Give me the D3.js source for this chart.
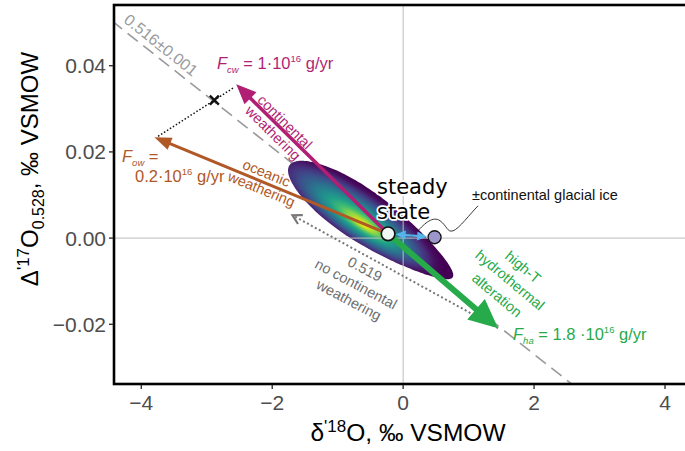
<!DOCTYPE html>
<html><head><meta charset="utf-8">
<script src="https://cdn.jsdelivr.net/npm/d3@7"></script>
<style>body{margin:0;background:#fff} svg{display:block}</style>
</head><body><svg id="c" width="685" height="451"></svg>
<script>
// ---- data ----
const xTicks = [-4, -2, 0, 2, 4];
const xTickLabels = ["−4", "−2", "0", "2", "4"];
const yTicks = [-0.02, 0, 0.02, 0.04];
const yTickLabels = ["−0.02", "0.00", "0.02", "0.04"];
const steadyState = [-0.23, 0.001];
const glacialState = [0.48, 0.0002];
const fluxNames = ["continental weathering", "oceanic weathering", "high-T hydrothermal alteration"];
const fluxTipX = [-2.55, -3.80, 1.45];
const fluxTipY = [0.0357, 0.0234, -0.0209];
const line516X = [-4.45, 2.57];
const line516Y = [0.0504, -0.0338];
const line519X = [1.45, -1.69];
const line519Y = [-0.0209, 0.0053];
const mixX = [-2.60, -2.884, -3.745];
const mixY = [0.0348, 0.0320, 0.0236];
const densityCenter = [-0.49, 0.0039];

// ---- setup ----
const svg = d3.select("#c");
const P = {l: 114, t: 5, r: 690, b: 384};
const x = d3.scaleLinear().domain([-4, 4]).range([141.3, 665]);
const y = d3.scaleLinear().domain([-0.02, 0.04]).range([324.3, 65.7]);
const FONT = "'Liberation Sans', Arial, Helvetica, sans-serif";
const C = {cw: "#B01F74", ow: "#B05826", ha: "#26AA4A", blue: "#56B4E9"};

const defs = svg.append("defs");
defs.append("clipPath").attr("id", "clip").append("rect")
  .attr("x", P.l).attr("y", P.t).attr("width", P.r - P.l).attr("height", P.b - P.t);
const grad = defs.append("radialGradient").attr("id", "vir")
  .attr("cx", 0.42).attr("cy", 0.54).attr("fx", 0.48).attr("fy", 0.64).attr("r", 0.52);
[[0, "#FDE725"], [0.07, "#D8E219"], [0.16, "#8FD744"], [0.26, "#3FBC73"], [0.37, "#1F9E89"],
 [0.48, "#25838E"], [0.59, "#30678D"], [0.7, "#3E4A89"], [0.8, "#472C7A"], [0.9, "#460F5F"], [1, "#440154"]]
  .forEach(s => grad.append("stop").attr("offset", s[0]).attr("stop-color", s[1]));

const plot = svg.append("g").attr("clip-path", "url(#clip)");

// 0.516 dashed line
plot.append("line").attr("x1", x(line516X[0])).attr("y1", y(line516Y[0]))
  .attr("x2", x(line516X[1])).attr("y2", y(line516Y[1]))
  .attr("stroke", "#9A9A9A").attr("stroke-width", 1.6).attr("stroke-dasharray", "13,7");

// density blob (egg-shaped: broader at upper-left end)
{
  const a = 99, b = 22.5;
  const pts = d3.range(0, 2 * Math.PI, Math.PI / 90).map(t => {
    const c = Math.cos(t), s = Math.sin(t);
    return [a * c, b * s * (1 - 0.22 * c) * (1 + 0.12 * (1 - c * c))];
  });
  plot.append("g")
    .attr("transform", `translate(${x(densityCenter[0])},${y(densityCenter[1])}) rotate(34.5)`)
    .append("path").attr("d", d3.line().curve(d3.curveCardinalClosed)(pts)).attr("fill", "url(#vir)");
}

// zero lines
plot.append("line").attr("x1", x(0)).attr("x2", x(0)).attr("y1", P.t).attr("y2", P.b)
  .attr("stroke", "#BDBDBD").attr("stroke-width", 1);
plot.append("line").attr("x1", P.l).attr("x2", P.r).attr("y1", y(0)).attr("y2", y(0))
  .attr("stroke", "#BDBDBD").attr("stroke-width", 1);

// 0.519 dotted line with open chevron
{
  const x1 = x(line519X[0]), y1 = y(line519Y[0]), x2 = x(line519X[1]), y2 = y(line519Y[1]);
  plot.append("line").attr("x1", x1).attr("y1", y1).attr("x2", x2).attr("y2", y2)
    .attr("stroke", "#777").attr("stroke-width", 2).attr("stroke-dasharray", "2,2.5");
  const a = Math.atan2(y2 - y1, x2 - x1), L = 9, W = 5;
  const bx = x2 - L * Math.cos(a), by = y2 - L * Math.sin(a);
  plot.append("path")
    .attr("d", `M${bx - W * Math.sin(a)},${by + W * Math.cos(a)} L${x2},${y2} L${bx + W * Math.sin(a)},${by - W * Math.cos(a)}`)
    .attr("fill", "none").attr("stroke", "#777").attr("stroke-width", 2.2);
}

// mixing dotted lines
plot.append("path")
  .attr("d", d3.line()(mixX.map((d, i) => [x(d), y(mixY[i])])))
  .attr("fill", "none").attr("stroke", "#111").attr("stroke-width", 1.5).attr("stroke-dasharray", "1.5,2");
// cross
{
  const cx = x(mixX[1]), cy = y(mixY[1]), s = 4.5;
  plot.append("path").attr("d", `M${cx - s},${cy - s}L${cx + s},${cy + s}M${cx - s},${cy + s}L${cx + s},${cy - s}`)
    .attr("stroke", "#111").attr("stroke-width", 2.4);
}

function arrow(g, x1, y1, x2, y2, color, w, L, W) {
  const a = Math.atan2(y2 - y1, x2 - x1);
  const bx = x2 - L * Math.cos(a), by = y2 - L * Math.sin(a);
  g.append("line").attr("x1", x1).attr("y1", y1)
    .attr("x2", x2 - (L * 0.6) * Math.cos(a)).attr("y2", y2 - (L * 0.6) * Math.sin(a))
    .attr("stroke", color).attr("stroke-width", w);
  g.append("path")
    .attr("d", `M${x2},${y2}L${bx - W / 2 * Math.sin(a)},${by + W / 2 * Math.cos(a)}L${bx + W / 2 * Math.sin(a)},${by - W / 2 * Math.cos(a)}Z`)
    .attr("fill", color);
}

const sx = x(steadyState[0]), sy = y(steadyState[1]);
const arrowStyle = [[C.cw, 3.6, 20, 17], [C.ow, 3, 17, 13], [C.ha, 6, 29, 27]];
fluxNames.forEach((n, i) => {
  arrow(plot, sx, sy, x(fluxTipX[i]), y(fluxTipY[i]), arrowStyle[i][0], arrowStyle[i][1], arrowStyle[i][2], arrowStyle[i][3]);
});

// glacial double arrow
{
  const gx = x(glacialState[0]), gy = y(glacialState[1]);
  const a = Math.atan2(gy - sy, gx - sx), r = 7.5;
  const ax = sx + r * Math.cos(a), ay = sy + r * Math.sin(a);
  const bx = gx - r * Math.cos(a), by = gy - r * Math.sin(a);
  const mx = (ax + bx) / 2, my = (ay + by) / 2;
  arrow(plot, mx, my, ax, ay, C.blue, 2.2, 10, 9);
  arrow(plot, mx, my, bx, by, C.blue, 2.2, 10, 9);
}

// leader line
{
  const ox = x(steadyState[0]), oy = y(steadyState[1]);
  plot.append("path")
    .attr("d", `M${ox + 29},${oy - 2} C${ox + 37},${oy - 11} ${ox + 45},${oy - 18} ${ox + 52},${oy - 13} S${ox + 59},${oy - 1} ${ox + 65},${oy - 3} S${ox + 82},${oy - 20} ${ox + 90},${oy - 28}`)
    .attr("fill", "none").attr("stroke", "#222").attr("stroke-width", 0.9);
}

// points
plot.append("circle").attr("cx", x(glacialState[0])).attr("cy", y(glacialState[1])).attr("r", 6.5)
  .attr("fill", "#9C96CB").attr("stroke", "#111").attr("stroke-width", 1.3);
plot.append("circle").attr("cx", sx).attr("cy", sy).attr("r", 6.8)
  .attr("fill", "#EFF8F4").attr("stroke", "#111").attr("stroke-width", 1.6);

// ---- frame, ticks ----
svg.append("rect").attr("x", P.l).attr("y", P.t).attr("width", P.r - P.l).attr("height", P.b - P.t)
  .attr("fill", "none").attr("stroke", "#000").attr("stroke-width", 2.6);
xTicks.forEach((t, i) => {
  svg.append("line").attr("x1", x(t)).attr("x2", x(t)).attr("y1", P.b + 1).attr("y2", P.b + 5)
    .attr("stroke", "#333").attr("stroke-width", 1.4);
  svg.append("text").attr("x", x(t)).attr("y", 410).attr("text-anchor", "middle")
    .attr("font-family", FONT).attr("font-size", 21).attr("fill", "#4D4D4D").text(xTickLabels[i]);
});
yTicks.forEach((t, i) => {
  svg.append("line").attr("x1", P.l - 5).attr("x2", P.l - 1).attr("y1", y(t)).attr("y2", y(t))
    .attr("stroke", "#333").attr("stroke-width", 1.4);
  svg.append("text").attr("x", 106).attr("y", y(t) + 7.5).attr("text-anchor", "end")
    .attr("font-family", FONT).attr("font-size", 21).attr("fill", "#4D4D4D").text(yTickLabels[i]);
});

// axis titles
{
  const t = svg.append("text").attr("x", 408).attr("y", 441).attr("text-anchor", "middle")
    .attr("font-family", FONT).attr("font-size", 24.5).attr("fill", "#000");
  t.append("tspan").text("δ");
  t.append("tspan").attr("font-size", 17).attr("dy", -9).text("'18");
  t.append("tspan").attr("dy", 9).text("O, ‰ VSMOW");
}
{
  const t = svg.append("text").attr("transform", "translate(38,169) rotate(-90)").attr("text-anchor", "middle")
    .attr("font-family", FONT).attr("font-size", 24).attr("fill", "#000");
  t.append("tspan").text("Δ");
  t.append("tspan").attr("font-size", 17).attr("dy", -9).text("'17");
  t.append("tspan").attr("dy", 9).text("O");
  t.append("tspan").attr("font-size", 16).attr("dy", 6).text("0.528");
  t.append("tspan").attr("dy", -6).text(", ‰ VSMOW");
}

// ---- annotations ----
function rotLabel(cx, cy, ang, str, color, size, style) {
  svg.append("text").attr("transform", `translate(${cx},${cy}) rotate(${ang})`)
    .attr("text-anchor", "middle").attr("dy", "0.35em")
    .attr("font-family", FONT).attr("font-size", size).attr("fill", color)
    .attr("font-style", style || "normal").text(str);
}
rotLabel(161, 45, 38.5, "0.516±0.001", "#9A9A9A", 16);
rotLabel(285, 122, 44.6, "continental", C.cw, 14.5);
rotLabel(273, 133, 44.6, "weathering", C.cw, 14.5);
rotLabel(266.5, 173, 22.4, "oceanic", C.ow, 14.5);
rotLabel(261.5, 189, 22.4, "weathering", C.ow, 14.5);
rotLabel(365, 269, 28, "0.519", "#6E6E6E", 14.5);
rotLabel(356, 284, 28, "no continental", "#6E6E6E", 14.5);
rotLabel(349, 300, 28, "weathering", "#6E6E6E", 14.5);
rotLabel(523, 267, 40, "high-T", C.ha, 14.5);
rotLabel(510, 280, 40, "hydrothermal", C.ha, 14.5);
rotLabel(497, 295, 40, "alteration", C.ha, 14.5);

function fluxText(x0, y0, sub, pre, post, color) {
  const t = svg.append("text").attr("x", x0).attr("y", y0).attr("font-family", FONT)
    .attr("font-size", 16.5).attr("fill", color);
  t.append("tspan").attr("font-style", "italic").text("F");
  t.append("tspan").attr("font-style", "italic").attr("font-size", 9.5).attr("dy", 4).text(sub);
  t.append("tspan").attr("dy", -4).text(pre);
  t.append("tspan").attr("font-size", 9.5).attr("dy", -7).text("16");
  t.append("tspan").attr("dy", 7).text(post);
}
fluxText(217, 69, "cw", " = 1·10", " g/yr", C.cw);
fluxText(513, 340, "ha", " = 1.8 ·10", " g/yr", C.ha);
{
  const t = svg.append("text").attr("x", 122).attr("y", 162).attr("font-family", FONT)
    .attr("font-size", 16.5).attr("fill", C.ow);
  t.append("tspan").attr("font-style", "italic").text("F");
  t.append("tspan").attr("font-style", "italic").attr("font-size", 9.5).attr("dy", 4).text("ow");
  t.append("tspan").attr("dy", -4).text(" =");
  const u = svg.append("text").attr("x", 135).attr("y", 182).attr("font-family", FONT)
    .attr("font-size", 16.5).attr("fill", C.ow);
  u.append("tspan").text("0.2·10");
  u.append("tspan").attr("font-size", 9.5).attr("dy", -7).text("16");
  u.append("tspan").attr("dy", 7).text(" g/yr");
}

// steady state with halo
["steady", "state"].forEach((s, i) => {
  svg.append("text").attr("x", 377).attr("y", 194 + i * 25)
    .attr("font-family", "'DejaVu Sans', sans-serif").attr("font-size", 21)
    .attr("fill", "#000").attr("stroke", "#fff").attr("stroke-width", 3.5)
    .attr("stroke-linejoin", "round").attr("paint-order", "stroke").text(s);
});
svg.append("text").attr("x", 472).attr("y", 200).attr("font-family", FONT)
  .attr("font-size", 14.5).attr("fill", "#111").text("±continental glacial ice");
</script></body></html>
